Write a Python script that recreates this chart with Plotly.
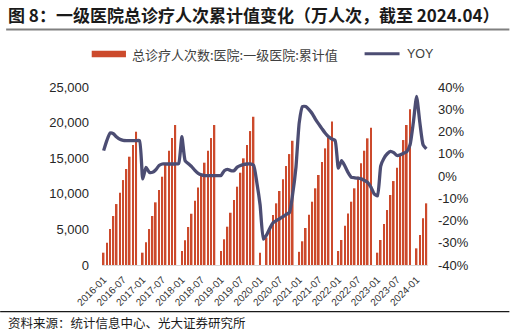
import plotly.graph_objects as go

# ---------------- data ----------------
years = [2016, 2017, 2018, 2019, 2020, 2021, 2022, 2023, 2024]
months = ["01", "02", "03", "04", "05", "06", "07", "08", "09", "10", "11", "12"]

# cumulative total visits, first-level hospitals (10k person-times); Dec not reported
visits_2016 = [1730, 3130, 5050, 6880, 8560, 10150, 11930, 13480, 15210, 16850, 18720, None]
visits_2017 = [1730, 3190, 5050, 6880, 8800, 10530, 12400, 14250, 16050, 17840, 19660, None]
visits_2018 = [1970, 3470, 5335, 7200, 9030, 10900, 12780, 14370, 16050, 17830, 19660, None]
visits_2019 = [1966, 3610, 5380, 7340, 9130, 11000, 12960, 14980, 16850, 18810, 20820, None]
visits_2020 = [1730, None, 3870, 5475, 7020, 8660, 10390, 12030, 13900, 15580, 17450, None]
visits_2021 = [1850, 3330, 5200, 7070, 8890, 10770, 12640, 14460, 16380, 17900, 20170, None]
visits_2022 = [1966, 3510, 5520, 7250, 8890, 10770, 12400, 14280, 16050, 17790, 19280, None]
visits_2023 = [1730, 3510, 5760, 7720, 9830, 11790, 13660, 15580, 17550, 19660, 21860, None]
visits_2024 = [2340, 4210, 6550, 8660]

# YOY (%)
yoy_2016 = [11.4, 16.0, 19.3, 19.0, 17.5, 16.5, 16.0, 15.9, 15.9, 15.9, 15.9, 15.9]
yoy_2017 = [-1.3, 3.9, 1.7, 1.7, 2.8, 4.7, 5.4, 5.4, 5.4, 5.4, 5.4, 5.6]
yoy_2018 = [17.7, 6.9, 5.5, 4.2, 2.5, 1.2, 0.5, 0.2, 0.2, 0.2, 0.2, 0.2]
yoy_2019 = [0.2, 2.4, 3.0, 2.4, 2.4, 4.0, 4.7, 5.2, 5.4, 5.4, 4.8, -3.0]
yoy_2020 = [-13.0, -28.4, -26.5, -23.5, -21.0, -20.0, -19.2, -18.3, -17.3, -16.4, -8.0, 4.0]
yoy_2021 = [24.0, 31.2, 31.2, 29.8, 28.0, 25.5, 23.3, 21.2, 19.2, 17.6, 16.6, 16.0]
yoy_2022 = [3.5, 6.9, 4.5, 1.5, -0.6, -0.8, -1.0, -1.3, -2.0, -2.9, -5.0, -8.0]
yoy_2023 = [-8.9, 4.5, 8.0, 10.0, 11.1, 10.5, 9.2, 9.5, 10.2, 11.0, 14.0, 24.0]
yoy_2024 = [35.8, 24.0, 14.0, 12.2]

visits = (visits_2016 + visits_2017 + visits_2018 + visits_2019 + visits_2020
          + visits_2021 + visits_2022 + visits_2023 + visits_2024)
yoy = (yoy_2016 + yoy_2017 + yoy_2018 + yoy_2019 + yoy_2020
       + yoy_2021 + yoy_2022 + yoy_2023 + yoy_2024)

categories = [f"{y}-{m}" for y in years for m in months][:len(visits)]
x_tick_labels = categories[::6]

left_tickvals = [0, 5000, 10000, 15000, 20000, 25000]
left_ticktext = ["0", "5,000", "10,000", "15,000", "20,000", "25,000"]
right_tickvals = [-40, -30, -20, -10, 0, 10, 20, 30, 40]
right_ticktext = ["-40%", "-30%", "-20%", "-10%", "0%", "10%", "20%", "30%", "40%"]

bar_name = "总诊疗人次数:医院:一级医院:累计值"
line_name = "YOY"
title_text = "图 8：一级医院总诊疗人次累计值变化（万人次，截至 2024.04）"
source_text = "资料来源：统计信息中心、光大证券研究所"

# ---------------- style ----------------
W, H = 516, 332
ML, MR, MT, MB = 102, 87.5, 86.7, 67
PW, PH = W - ML - MR, H - MT - MB
BAR_COLOR = "#CC4A2C"
LINE_COLOR = "#4C4D73"
LATIN = "Liberation Sans, Arial, Noto Sans CJK SC"
CJK = "Noto Sans CJK SC, Liberation Sans"


def px(x):
    return (x - ML) / PW


def py(y):
    return (H - MB - y) / PH


fig = go.Figure()
fig.add_trace(go.Bar(x=categories, y=visits, name=bar_name, marker_color=BAR_COLOR,
                     marker_line_width=0, showlegend=False))
fig.add_trace(go.Scatter(x=categories, y=yoy, name=line_name, yaxis="y2", mode="lines",
                         line=dict(color=LINE_COLOR, width=3.3, shape="spline", smoothing=0.5),
                         connectgaps=True, showlegend=False))

fig.update_layout(
    width=W, height=H,
    margin=dict(l=ML, r=MR, t=MT, b=MB, pad=0),
    paper_bgcolor="white", plot_bgcolor="white",
    bargap=0.5,
    font=dict(family=LATIN, color="#262626"),
    xaxis=dict(type="category", categoryorder="array", categoryarray=categories,
               tickmode="array", tickvals=x_tick_labels, ticktext=x_tick_labels,
               tickangle=-45, tickfont=dict(size=10, family=LATIN, color="#333333"),
               showgrid=False, zeroline=False, ticks="", showline=True,
               linecolor="#D9D9D9", linewidth=1, ticklabelstandoff=4),
    yaxis=dict(range=[0, 25000], tickmode="array", tickvals=left_tickvals,
               ticktext=left_ticktext, showgrid=False, zeroline=False, ticks="",
               tickfont=dict(size=13, family=LATIN, color="#262626"),
               ticklabelstandoff=12),
    yaxis2=dict(range=[-40, 40], overlaying="y", side="right", tickmode="array",
                tickvals=right_tickvals, ticktext=right_ticktext, showgrid=False,
                zeroline=False, ticks="", tickfont=dict(size=13, family=LATIN, color="#262626"),
                ticklabelstandoff=9),
)

shapes = [
    # title underline
    dict(type="line", xref="paper", yref="paper", x0=px(6), x1=px(510), y0=py(29), y1=py(29),
         line=dict(color="#808080", width=2)),
    # legend bar swatch
    dict(type="rect", xref="paper", yref="paper", x0=px(91.7), x1=px(126), y0=py(57), y1=py(50.5),
         fillcolor=BAR_COLOR, line=dict(width=0)),
    # legend line swatch
    dict(type="line", xref="paper", yref="paper", x0=px(365), x1=px(400), y0=py(53.3), y1=py(53.3),
         line=dict(color=LINE_COLOR, width=3)),
    # source separator
    dict(type="line", xref="paper", yref="paper", x0=px(0), x1=px(510), y0=py(311.7), y1=py(311.7),
         line=dict(color="#1a1a1a", width=1.3)),
]
annotations = [
    dict(text="<b>" + title_text + "</b>", xref="paper", yref="paper", x=px(6), y=py(14.5),
         xanchor="left", yanchor="middle", showarrow=False,
         font=dict(size=17, family=CJK, color="#1a1a1a")),
    dict(text=bar_name, xref="paper", yref="paper", x=px(130), y=py(53.8),
         xanchor="left", yanchor="middle", showarrow=False,
         font=dict(size=13, family=CJK, color="#404040")),
    dict(text=line_name, xref="paper", yref="paper", x=px(405), y=py(53.3),
         xanchor="left", yanchor="middle", showarrow=False,
         font=dict(size=12.5, family=LATIN, color="#404040")),
    dict(text=source_text, xref="paper", yref="paper", x=px(6), y=py(322.5),
         xanchor="left", yanchor="middle", showarrow=False,
         font=dict(size=12.5, family=CJK, color="#1a1a1a")),
]
fig.update_layout(shapes=shapes, annotations=annotations)

fig.write_html("out.html")
